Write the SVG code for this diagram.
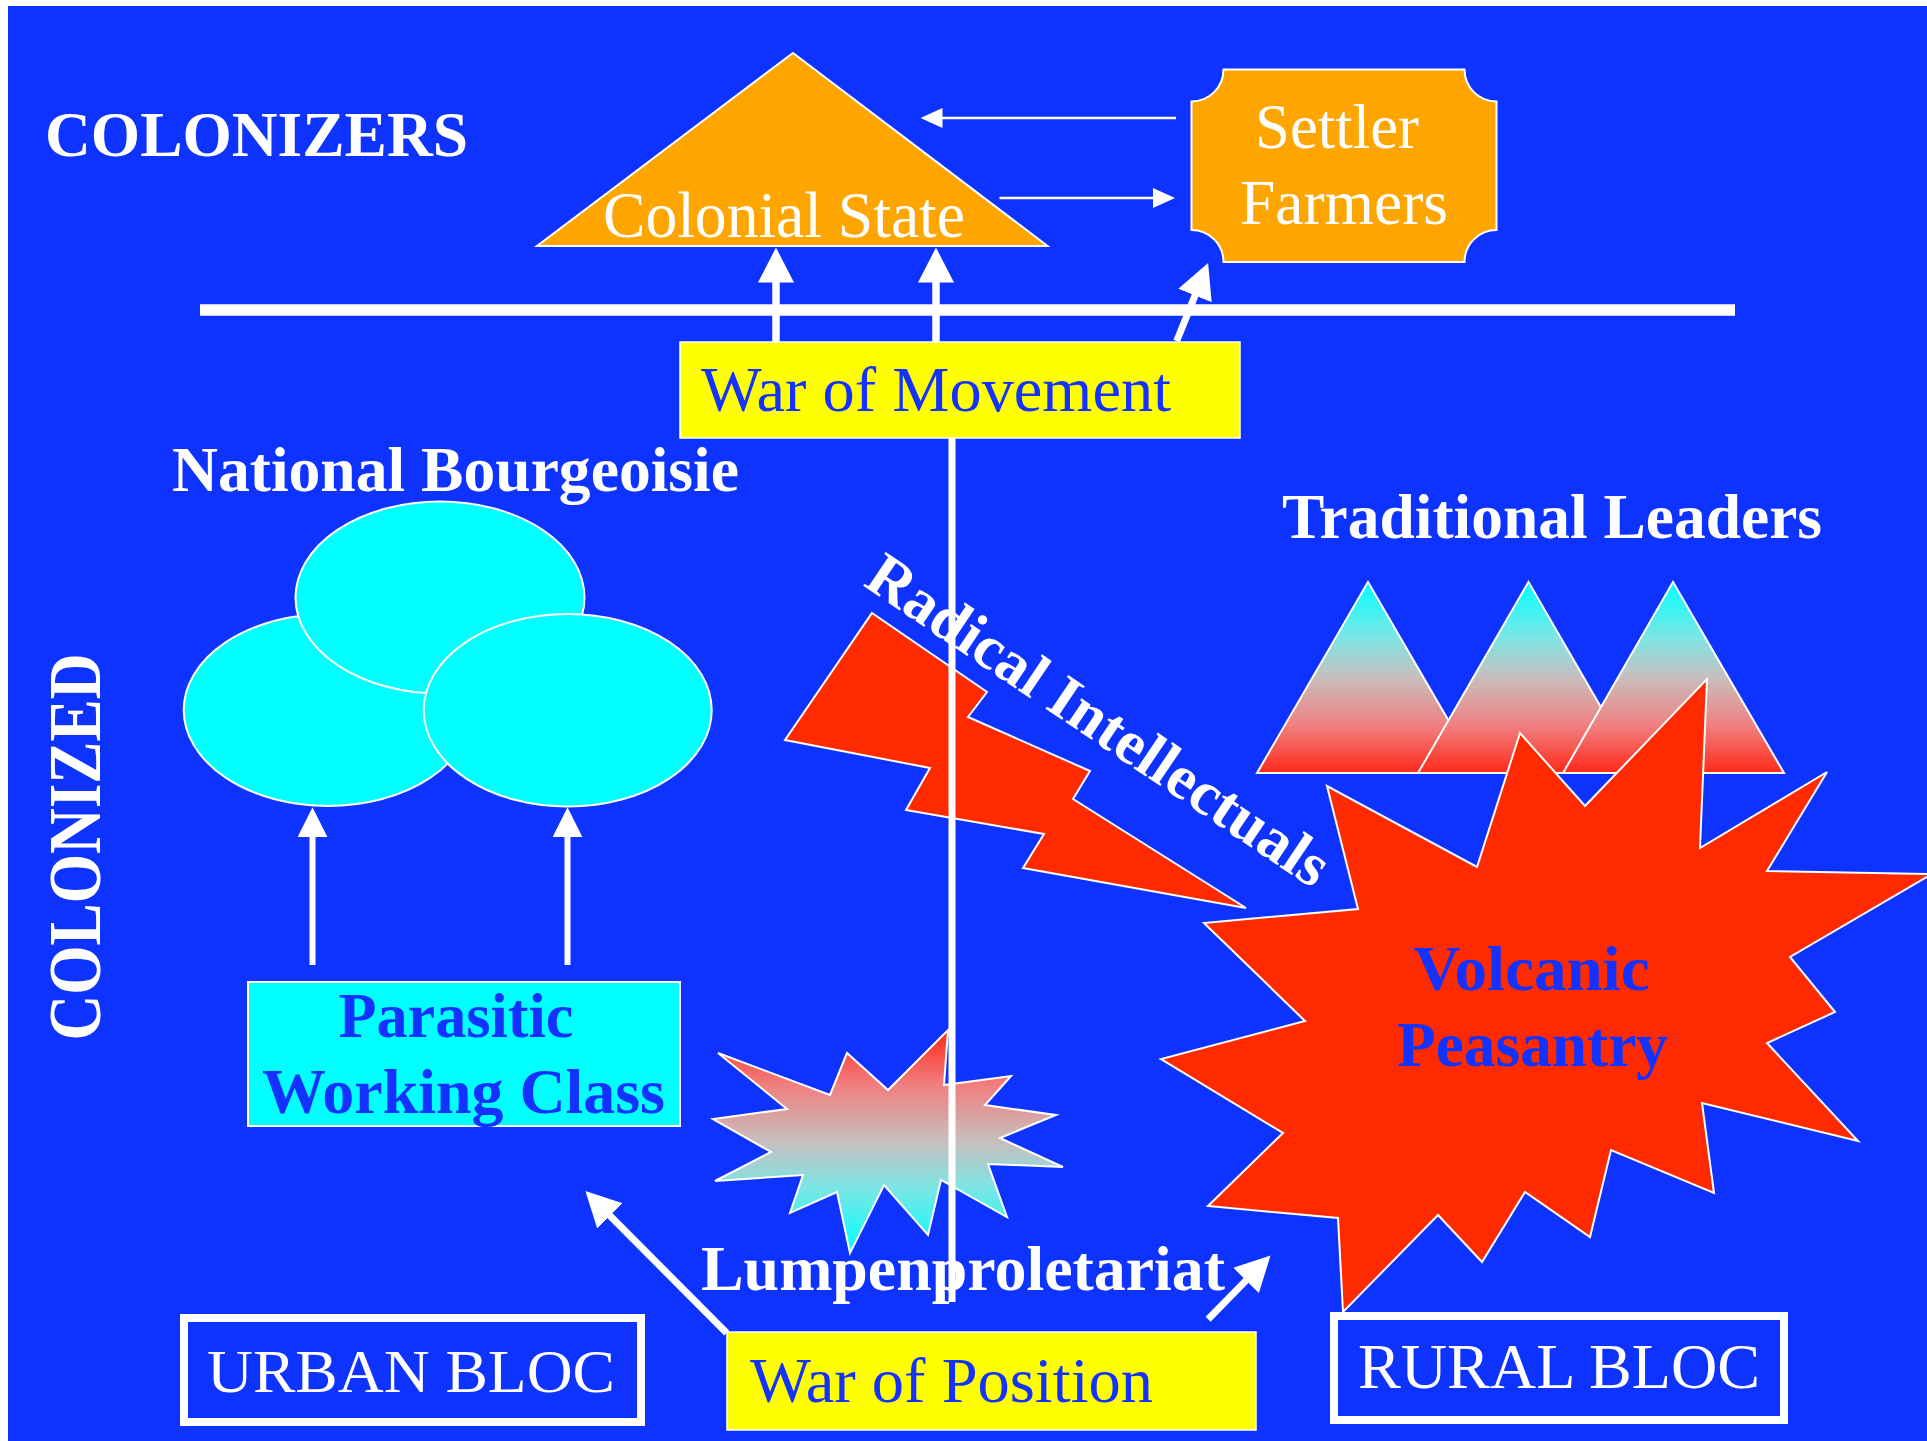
<svg xmlns="http://www.w3.org/2000/svg" width="1927" height="1441" viewBox="0 0 1927 1441">
<style>
.serif{font-family:"Liberation Serif","Times New Roman",serif}
.w{fill:#ffffff}
.b{fill:#1432FF}
.bold{font-weight:bold}
.orange{fill:#FFA500;stroke:#ffffff;stroke-width:2}
.cyan{fill:#00FFFF;stroke:#ffffff;stroke-width:2}
.red{fill:#FF2A00;stroke:#ffffff;stroke-width:2}
.yellow{fill:#FFFF00;stroke:#ffffff;stroke-width:1.5}
.bloc{fill:none;stroke:#ffffff;stroke-width:8}
.conn{stroke:#ffffff;fill:none}
</style>
<defs>
<linearGradient id="gTrad" x1="0" y1="0" x2="0" y2="1">
<stop offset="0" stop-color="#00FFFF"/>
<stop offset="0.3" stop-color="#80E4E4"/>
<stop offset="0.5" stop-color="#C8BEBE"/>
<stop offset="0.75" stop-color="#F08080"/>
<stop offset="1" stop-color="#FF2A1A"/>
</linearGradient>
<linearGradient id="gLump" x1="0" y1="0" x2="0" y2="1">
<stop offset="0" stop-color="#FF2A1A"/>
<stop offset="0.25" stop-color="#F08080"/>
<stop offset="0.5" stop-color="#C8BEBE"/>
<stop offset="0.7" stop-color="#80E4E4"/>
<stop offset="1" stop-color="#00FFFF"/>
</linearGradient>
<marker id="ah" markerUnits="userSpaceOnUse" markerWidth="35" markerHeight="36" viewBox="0 0 35 36" refX="0.5" refY="18" orient="auto"><path d="M0,0 L35,18 L0,36 z" fill="#ffffff"/></marker>
<marker id="ahS" markerUnits="userSpaceOnUse" markerWidth="30" markerHeight="30" viewBox="0 0 30 30" refX="0.5" refY="15" orient="auto"><path d="M0,0 L30,15 L0,30 z" fill="#ffffff"/></marker>
<marker id="ahT" markerUnits="userSpaceOnUse" markerWidth="22" markerHeight="20" viewBox="0 0 22 20" refX="0.5" refY="10" orient="auto"><path d="M0,0 L22,10 L0,20 z" fill="#ffffff"/></marker>
</defs>
<rect x="0" y="0" width="1927" height="1441" fill="#ffffff"/>
<rect x="8" y="6" width="1919" height="1435" fill="#0F33FF"/>

<text id="label-colonizers" class="serif w bold" x="45" y="156" font-size="64" textLength="423" lengthAdjust="spacingAndGlyphs">COLONIZERS</text>
<text id="label-colonized" class="serif w bold" font-size="74" text-anchor="middle" textLength="387" lengthAdjust="spacingAndGlyphs" transform="translate(100,847) rotate(-90)">COLONIZED</text>

<g id="colonial-state">
<polygon class="orange" points="793,53 1047.5,246 537,246"/>
<text class="serif w" x="603" y="237" font-size="65" textLength="362" lengthAdjust="spacingAndGlyphs">Colonial State</text>
</g>

<g id="settler-farmers">
<path class="orange" d="M1223.5,69.5 H1464.5 A32,32 0 0 0 1496.5,101.5 V230 A32,32 0 0 0 1464.5,262 H1223.5 A32,32 0 0 0 1191.5,230 V101.5 A32,32 0 0 0 1223.5,69.5 Z"/>
<text class="serif w" x="1255" y="148" font-size="64" textLength="164" lengthAdjust="spacingAndGlyphs">Settler</text>
<text class="serif w" x="1240" y="224" font-size="64" textLength="208" lengthAdjust="spacingAndGlyphs">Farmers</text>
</g>

<g id="war-of-movement">
<rect class="yellow" x="680" y="342" width="560" height="96"/>
<text class="serif b" x="701" y="411" font-size="64" textLength="470" lengthAdjust="spacingAndGlyphs">War of Movement</text>
</g>

<g id="national-bourgeoisie">
<text class="serif w bold" x="172" y="491" font-size="63" textLength="567" lengthAdjust="spacingAndGlyphs">National Bourgeoisie</text>
<ellipse class="cyan" cx="328" cy="710" rx="144.3" ry="96"/>
<ellipse class="cyan" cx="440" cy="597.5" rx="144.5" ry="96"/>
<ellipse class="cyan" cx="567.7" cy="710.3" rx="144" ry="96.3"/>
</g>

<g id="parasitic-working-class">
<rect class="cyan" x="248" y="982" width="432" height="144"/>
<text class="serif b bold" x="456" y="1037" font-size="63" text-anchor="middle" textLength="235" lengthAdjust="spacingAndGlyphs">Parasitic</text>
<text class="serif b bold" x="463.5" y="1113" font-size="63" text-anchor="middle" textLength="403" lengthAdjust="spacingAndGlyphs">Working Class</text>
</g>

<g id="traditional-leaders">
<text class="serif w bold" x="1282" y="538" font-size="64" textLength="540" lengthAdjust="spacingAndGlyphs">Traditional Leaders</text>
<polygon fill="url(#gTrad)" stroke="#ffffff" stroke-width="2" points="1368,582 1479,773 1257,773"/>
<polygon fill="url(#gTrad)" stroke="#ffffff" stroke-width="2" points="1528.5,582 1639,773 1418,773"/>
<polygon fill="url(#gTrad)" stroke="#ffffff" stroke-width="2" points="1673,582 1784,773 1563,773"/>
</g>

<g id="volcanic-peasantry">
<polygon class="red" points="1707,679 1700,848 1827,772 1767,871 1932,874 1790,957 1835,1012 1767,1043 1858,1141 1702,1103 1714,1193 1611,1150 1590,1237 1525,1192 1482,1262 1438,1215 1343,1312 1338,1218 1208,1206 1283,1133 1161,1059 1305,1021 1204,923 1358,909 1327,786 1477,867 1520,733 1585,806"/>
<text class="serif b bold" x="1531.5" y="990" font-size="63" text-anchor="middle" textLength="236" lengthAdjust="spacingAndGlyphs">Volcanic</text>
<text class="serif b bold" x="1532.5" y="1066" font-size="63" text-anchor="middle" textLength="271" lengthAdjust="spacingAndGlyphs">Peasantry</text>
</g>

<g id="radical-intellectuals">
<polygon class="red" points="872,613 987,692 968,717 1090,771 1073,799 1246,908 1023,868 1044,834 906,810 930,768 785,740"/>
<text class="serif w bold" font-size="62" text-anchor="middle" textLength="544" lengthAdjust="spacingAndGlyphs" transform="translate(1087.5,737) rotate(34)">Radical Intellectuals</text>
</g>

<g id="lumpenproletariat">
<polygon fill="url(#gLump)" stroke="#ffffff" stroke-width="2" points="948,1030 944,1085 1011,1076 985,1105 1056,1115 1000,1138 1063,1167 988,1164 1007,1217 941,1180 928,1235 884,1185 850,1253 837,1192 790,1213 803,1175 715,1181 771,1152 713,1119 787,1109 718,1053 830,1095 847,1053 888,1090"/>
<text class="serif w bold" x="701" y="1290" font-size="64" textLength="524" lengthAdjust="spacingAndGlyphs">Lumpenproletariat</text>
</g>

<g id="urban-bloc">
<rect class="bloc" x="184" y="1318" width="457" height="104"/>
<text class="serif w" x="207" y="1392" font-size="62" textLength="408" lengthAdjust="spacingAndGlyphs">URBAN BLOC</text>
</g>

<g id="war-of-position">
<rect class="yellow" x="727" y="1332" width="529" height="98"/>
<text class="serif b" x="750" y="1402" font-size="64" textLength="403" lengthAdjust="spacingAndGlyphs">War of Position</text>
</g>

<g id="rural-bloc">
<rect class="bloc" x="1334" y="1316" width="450" height="104"/>
<text class="serif w" x="1358" y="1388" font-size="64" textLength="402" lengthAdjust="spacingAndGlyphs">RURAL BLOC</text>
</g>

<g id="connectors" class="conn">
<line x1="200" y1="310" x2="1735" y2="310" stroke-width="11.5"/>
<line x1="1176" y1="118" x2="942" y2="118" stroke-width="2.5" marker-end="url(#ahT)"/>
<line x1="999.5" y1="198" x2="1153.5" y2="198" stroke-width="2.5" marker-end="url(#ahT)"/>
<line x1="776" y1="342" x2="776" y2="282" stroke-width="7.5" marker-end="url(#ah)"/>
<line x1="936" y1="342" x2="936" y2="282" stroke-width="7.5" marker-end="url(#ah)"/>
<line x1="1176.7" y1="341" x2="1195.2" y2="295.1" stroke-width="7" marker-end="url(#ah)"/>
<line x1="312.5" y1="965" x2="312.5" y2="836.7" stroke-width="6" marker-end="url(#ahS)"/>
<line x1="567.5" y1="965" x2="567.5" y2="836.7" stroke-width="6" marker-end="url(#ahS)"/>
<line x1="952" y1="438" x2="952" y2="1302" stroke-width="7"/>
<line x1="726.7" y1="1333" x2="609.7" y2="1215.5" stroke-width="7" marker-end="url(#ah)"/>
<line x1="1208.1" y1="1319.3" x2="1246.4" y2="1280.1" stroke-width="7" marker-end="url(#ah)"/>
</g>
</svg>
